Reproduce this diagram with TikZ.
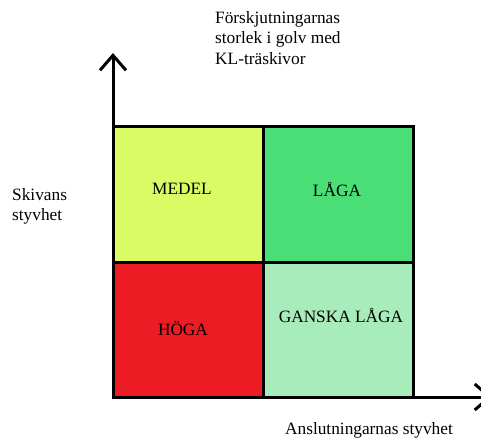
\documentclass[tikz,border=0pt]{standalone}
\usepackage{fontspec}
\setmainfont{Liberation Serif}
\usetikzlibrary{arrows.meta}
\definecolor{medelcol}{HTML}{DAFB64}
\definecolor{lagacol}{HTML}{4ADE77}
\definecolor{hogacol}{HTML}{ED1C24}
\definecolor{ganskacol}{HTML}{A8ECBB}

\begin{document}
\begin{tikzpicture}[x=1pt,y=-1pt,
    lbl/.style={inner sep=0pt,font=\fontsize{17.3}{20.5}\selectfont,align=left},
    axis/.style={line width=3pt,-{Straight Barb[length=15pt,width=26pt,line width=3pt]}}]
        \useasboundingbox (0,0) rectangle (481,437);
        % cells
        \fill[medelcol] (113,126) rectangle (263,262);
        \fill[lagacol] (263,126) rectangle (413,262);
        \fill[hogacol] (113,262) rectangle (263,397);
        \fill[ganskacol] (263,262) rectangle (413,397);
        \draw[line width=3pt] (113,126) rectangle (413,397);
        \draw[line width=3pt] (263,126) -- (263,397);
        \draw[line width=3pt] (113,262) -- (413,262);
        % axes
        \coordinate (o) at (113,397);
        \coordinate (ytip) at (113,53);
        \coordinate (xtip) at (492,397);
        \draw[axis] (o) -- (ytip);
        \draw[axis] (o) -- (xtip);
        % texts
        \node[lbl] (medel) at (182,189) {MEDEL};
        \node[lbl] (laga) at (337,189) {LÅGA};
        \node[lbl] (hoga) at (183,329) {HÖGA};
        \node[lbl] (ganska) at (341,315) {GANSKA LÅGA};
        \node[lbl,anchor=north west] (yname) at (215,11) {Förskjutningarnas\\storlek i golv med\\KL-träskivor};
        \node[lbl,anchor=north west] (skiva) at (12,188) {Skivans\\styvhet};
        \node[lbl,anchor=base] (xname) at (369,434) {Anslutningarnas styvhet};
    \end{tikzpicture}
\end{document}
